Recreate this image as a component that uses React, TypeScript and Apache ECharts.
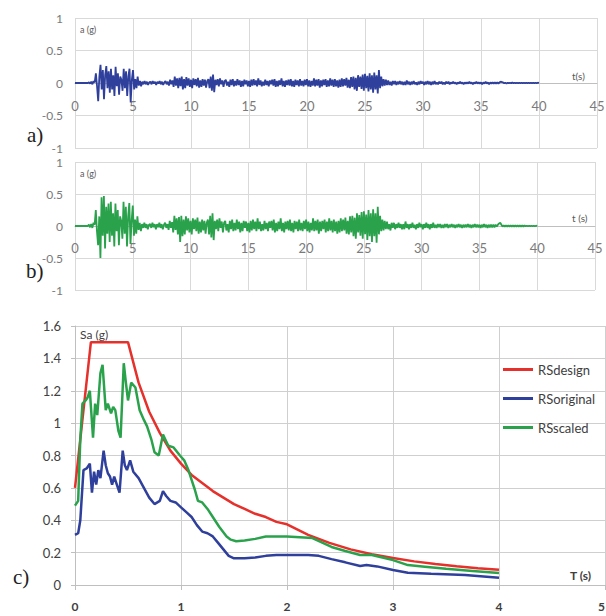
import React, { useEffect, useRef } from "react";
import * as echarts from "echarts";

// ---------- data ----------
// accelerogram sampling step (s); rows below hold 1 s each (10 samples)
const dtAcc = 0.1;
// original accelerogram a(g)
const accOriginal: number[] = [
  0, 0, 0, 0, 0, 0, 0, 0, 0, 0,
  0, 0, 0.01, -0.01, 0.02, -0.02, 0.03, 0.01, 0.15, -0.05,
  -0.28, 0.1, 0.28, -0.1, 0.2, -0.25, 0.12, 0.26, -0.08, 0.18,
  -0.15, 0.22, -0.1, 0.12, -0.2, 0.25, -0.05, 0.15, -0.18, 0.1,
  0.05, -0.12, 0.22, -0.08, 0.18, -0.2, 0.1, 0.22, -0.3, 0.05,
  0.2, -0.1, 0.06, -0.08, 0.1, -0.04, 0.03, -0.05, 0.02, -0.02,
  0.03, -0.02, 0.02, -0.03, 0.01, 0.02, -0.02, 0.03, -0.01, 0.02,
  -0.03, 0.02, -0.01, 0.03, -0.02, 0.02, -0.03, 0.01, 0.03, -0.02,
  0.02, -0.04, 0.05, -0.02, 0.04, -0.06, 0.1, -0.04, 0.07, -0.08,
  0.08, -0.05, 0.1, -0.1, 0.06, -0.08, 0.09, -0.04, 0.07, -0.06,
  0.05, -0.08, 0.07, -0.03, 0.06, -0.05, 0.08, -0.07, 0.04, -0.06,
  0.06, -0.04, 0.05, -0.07, 0.03, 0.06, -0.08, 0.1, -0.12, 0.13,
  -0.14, 0.05, -0.03, 0.06, -0.05, 0.07, -0.02, 0.04, -0.06, 0.03,
  0.05, -0.04, 0.02, -0.06, 0.05, -0.03, 0.06, -0.05, 0.03, -0.04,
  0.06, -0.03, 0.04, -0.06, 0.03, -0.05, 0.05, -0.02, 0.04, -0.05,
  0.03, -0.06, 0.05, -0.04, 0.06, -0.03, 0.04, -0.05, 0.07, -0.03,
  0.04, -0.05, 0.02, -0.04, 0.05, -0.03, 0.03, -0.05, 0.04, -0.02,
  0.05, -0.04, 0.06, -0.06, 0.03, -0.05, 0.04, -0.03, 0.07, -0.05,
  0.03, -0.06, 0.04, -0.03, 0.05, -0.04, 0.06, -0.05, 0.03, -0.06,
  0.05, -0.03, 0.04, -0.05, 0.06, -0.04, 0.03, -0.05, 0.05, -0.03,
  0.06, -0.05, 0.04, -0.06, 0.03, -0.04, 0.07, -0.05, 0.05, -0.04,
  0.06, -0.07, 0.04, -0.05, 0.05, -0.03, 0.06, -0.06, 0.04, -0.05,
  0.07, -0.04, 0.05, -0.06, 0.06, -0.05, 0.04, -0.07, 0.05, -0.06,
  0.07, -0.05, 0.06, -0.04, 0.08, -0.07, 0.05, -0.08, 0.09, -0.06,
  0.1, -0.1, 0.08, -0.12, 0.12, -0.06, 0.1, -0.09, 0.13, -0.12,
  0.14, -0.08, 0.11, -0.13, 0.15, -0.1, 0.12, -0.15, 0.16, -0.1,
  0.12, -0.16, 0.2, -0.08, 0.1, -0.05, 0.06, -0.04, 0.05, -0.03,
  0.04, -0.03, 0.02, -0.04, 0.03, -0.02, 0.03, -0.03, 0.02, -0.02,
  0.03, -0.02, 0.02, -0.03, 0.02, -0.03, 0.04, -0.02, 0.02, -0.03,
  0.02, -0.02, 0.03, -0.02, 0.01, -0.03, 0.02, -0.02, 0.03, -0.01,
  0.02, -0.03, 0.02, -0.02, 0.03, -0.02, 0.02, -0.03, 0.02, -0.02,
  0.03, -0.02, 0.01, -0.02, 0.02, -0.01, 0.02, -0.02, 0.01, -0.02,
  0.02, -0.01, 0.02, -0.02, 0.01, -0.01, 0.02, -0.01, 0.01, -0.02,
  0.01, -0.01, 0.02, -0.01, 0.01, -0.02, 0.01, -0.01, 0.01, -0.01,
  0.02, -0.01, 0.01, -0.02, 0.01, -0.01, 0.02, -0.01, 0.01, -0.01,
  0.01, -0.02, 0.01, -0.01, 0.02, -0.01, 0.01, -0.02, 0.01, -0.01,
  0.01, -0.01, 0.01, -0.01, 0.01, -0.01, 0.01, 0.02, 0.015, 0.01,
  -0.005, 0.005, -0.01, 0.005, -0.005, 0.005, -0.005, 0.01, -0.005, 0.005,
  -0.005, 0.005, -0.005, 0.005, -0.005, 0.005, -0.005, 0.005, -0.005, 0.005,
  -0.005, 0.005, -0.005, 0.005, -0.005, 0.005, -0.005, 0.005, -0.005, 0.005,
  0,
];
// scaled accelerogram a(g)
const accScaled: number[] = [
  0, 0, 0, 0, 0, 0, 0, 0, 0, 0,
  0, 0, 0.02, -0.02, 0.03, -0.03, 0.05, 0.02, 0.25, -0.08,
  -0.3, 0.15, -0.5, 0.45, -0.15, 0.47, -0.35, 0.3, -0.12, 0.35,
  -0.25, 0.38, -0.15, 0.2, -0.32, 0.35, -0.08, 0.25, -0.3, 0.15,
  0.08, -0.2, 0.38, -0.12, 0.3, -0.32, 0.15, 0.36, -0.28, 0.08,
  0.32, -0.15, 0.1, -0.12, 0.15, -0.06, 0.05, -0.08, 0.03, -0.03,
  0.05, -0.03, 0.03, -0.05, 0.02, 0.03, -0.03, 0.05, -0.02, 0.03,
  -0.05, 0.03, -0.02, 0.05, -0.03, 0.03, -0.05, 0.02, 0.05, -0.03,
  0.03, -0.06, 0.08, -0.03, 0.06, -0.1, 0.16, -0.06, 0.12, -0.13,
  0.14, -0.25, 0.16, -0.16, 0.1, -0.13, 0.15, -0.07, 0.12, -0.1,
  0.08, -0.13, 0.12, -0.05, 0.1, -0.08, 0.13, -0.12, 0.07, -0.1,
  0.1, -0.07, 0.08, -0.12, 0.05, 0.1, -0.13, 0.16, -0.18, 0.2,
  -0.22, 0.08, -0.05, 0.1, -0.08, 0.12, -0.03, 0.07, -0.1, 0.05,
  0.08, -0.07, 0.03, -0.1, 0.08, -0.05, 0.1, -0.08, 0.05, -0.07,
  0.1, -0.05, 0.07, -0.1, 0.05, -0.08, 0.08, -0.03, 0.07, -0.08,
  0.05, -0.1, 0.08, -0.07, 0.1, -0.05, 0.07, -0.08, 0.12, -0.05,
  0.07, -0.08, 0.03, -0.07, 0.08, -0.05, 0.05, -0.08, 0.07, -0.03,
  0.08, -0.07, 0.1, -0.1, 0.05, -0.08, 0.07, -0.05, 0.12, -0.08,
  0.05, -0.1, 0.07, -0.05, 0.08, -0.07, 0.1, -0.08, 0.05, -0.1,
  0.08, -0.05, 0.07, -0.08, 0.1, -0.07, 0.05, -0.08, 0.08, -0.05,
  0.1, -0.08, 0.07, -0.1, 0.05, -0.07, 0.12, -0.08, 0.08, -0.07,
  0.1, -0.12, 0.07, -0.08, 0.08, -0.05, 0.1, -0.1, 0.07, -0.08,
  0.12, -0.07, 0.08, -0.1, 0.1, -0.08, 0.07, -0.12, 0.08, -0.1,
  0.12, -0.08, 0.1, -0.07, 0.13, -0.12, 0.08, -0.13, 0.15, -0.1,
  0.16, -0.16, 0.13, -0.2, 0.2, -0.1, 0.17, -0.15, 0.22, -0.2,
  0.23, -0.13, 0.18, -0.22, 0.25, -0.16, 0.2, -0.25, 0.26, -0.16,
  0.2, -0.26, 0.3, -0.13, 0.16, -0.08, 0.1, -0.07, 0.08, -0.05,
  0.07, -0.05, 0.03, -0.07, 0.05, -0.03, 0.05, -0.05, 0.03, -0.03,
  0.05, -0.03, 0.03, -0.05, 0.03, -0.05, 0.07, -0.03, 0.03, -0.05,
  0.03, -0.03, 0.05, -0.03, 0.02, -0.05, 0.03, -0.03, 0.05, -0.02,
  0.03, -0.05, 0.03, -0.03, 0.05, -0.03, 0.03, -0.05, 0.03, -0.03,
  0.05, -0.03, 0.02, -0.03, 0.03, -0.02, 0.03, -0.03, 0.02, -0.03,
  0.03, -0.02, 0.03, -0.03, 0.02, -0.02, 0.03, -0.02, 0.02, -0.03,
  0.02, -0.02, 0.03, -0.02, 0.02, -0.03, 0.02, -0.02, 0.02, -0.02,
  0.03, -0.02, 0.02, -0.03, 0.02, -0.02, 0.03, -0.02, 0.02, -0.02,
  0.02, -0.03, 0.02, -0.02, 0.03, -0.02, 0.02, -0.03, 0.02, -0.02,
  0.02, -0.02, 0.02, -0.02, 0.02, -0.01, 0.02, 0.04, 0.05, 0.02,
  -0.01, 0.01, -0.01, 0.01, -0.01, 0.01, -0.01, 0.01, -0.01, 0.01,
  -0.01, 0.01, -0.01, 0.01, -0.01, 0.01, -0.01, 0.01, -0.01, 0.01,
  -0.005, 0.005, -0.005, 0.005, -0.005, 0.005, -0.005, 0.005, -0.005, 0.005,
  0,
];

// response spectra
const designT = [0, 0.15, 0.5, 0.6, 0.7, 0.8, 0.9, 1.0, 1.1, 1.2, 1.3, 1.4, 1.5, 1.6, 1.7, 1.8, 1.9, 2.0, 2.2, 2.4, 2.6, 2.8, 3.0, 3.2, 3.4, 3.6, 3.8, 4.0];
const designSa = [0.6, 1.5, 1.5, 1.25, 1.07, 0.94, 0.83, 0.75, 0.68, 0.63, 0.58, 0.54, 0.5, 0.47, 0.44, 0.42, 0.39, 0.375, 0.31, 0.26, 0.22, 0.19, 0.167, 0.146, 0.13, 0.116, 0.104, 0.094];

const originalT = [0, 0.03, 0.05, 0.08, 0.11, 0.14, 0.16, 0.18, 0.2, 0.22, 0.24, 0.27, 0.29, 0.31, 0.33, 0.35, 0.37, 0.39, 0.42, 0.45, 0.47, 0.49, 0.52, 0.55, 0.6, 0.65, 0.7, 0.75, 0.8, 0.83, 0.86, 0.9, 0.95, 1.0, 1.05, 1.1, 1.15, 1.2, 1.25, 1.3, 1.35, 1.4, 1.45, 1.5, 1.6, 1.7, 1.8, 1.9, 2.0, 2.2, 2.3, 2.42, 2.55, 2.69, 2.75, 2.85, 3.0, 3.14, 3.36, 3.68, 4.0];
const originalSa = [0.31, 0.32, 0.4, 0.71, 0.72, 0.75, 0.57, 0.7, 0.62, 0.71, 0.66, 0.83, 0.74, 0.69, 0.67, 0.62, 0.67, 0.63, 0.57, 0.83, 0.74, 0.71, 0.77, 0.7, 0.66, 0.6, 0.54, 0.5, 0.52, 0.58, 0.55, 0.52, 0.51, 0.48, 0.45, 0.42, 0.37, 0.33, 0.32, 0.3, 0.26, 0.22, 0.18, 0.165, 0.165, 0.17, 0.18, 0.185, 0.185, 0.185, 0.18, 0.16, 0.14, 0.117, 0.123, 0.115, 0.093, 0.076, 0.07, 0.062, 0.045];

const scaledT = [0, 0.03, 0.05, 0.07, 0.1, 0.12, 0.14, 0.17, 0.19, 0.21, 0.24, 0.26, 0.29, 0.31, 0.34, 0.36, 0.38, 0.41, 0.43, 0.46, 0.48, 0.5, 0.53, 0.57, 0.61, 0.65, 0.68, 0.72, 0.75, 0.79, 0.83, 0.88, 0.93, 0.99, 1.03, 1.07, 1.1, 1.13, 1.16, 1.2, 1.25, 1.3, 1.36, 1.43, 1.47, 1.52, 1.6, 1.7, 1.8, 2.0, 2.24, 2.42, 2.55, 2.69, 2.8, 2.9, 3.0, 3.14, 3.3, 3.5, 3.75, 4.0];
const scaledSa = [0.49, 0.52, 0.9, 1.12, 1.14, 1.16, 1.2, 0.91, 1.12, 1.05, 1.31, 1.36, 1.08, 1.12, 1.06, 1.1, 1.08, 0.95, 0.91, 1.37, 1.25, 1.14, 1.25, 1.22, 1.08, 1.02, 0.98, 0.9, 0.82, 0.8, 0.93, 0.86, 0.85, 0.8, 0.77, 0.71, 0.65, 0.59, 0.52, 0.51, 0.47, 0.42, 0.36, 0.3, 0.28, 0.27, 0.275, 0.285, 0.3, 0.3, 0.29, 0.235, 0.21, 0.185, 0.185, 0.17, 0.154, 0.123, 0.113, 0.1, 0.087, 0.074];

const seriesNames = ["RSdesign", "RSoriginal", "RSscaled"];

// ---------- styles ----------
const FONT = "Lato";
const GRID_C = "#d9d9d9";
const BLUE = "#2f3f9c";
const RED = "#e5302b";
const GREEN = "#2aa24c";

const toPairs = (xs: number[], ys: number[]) => xs.map((x, i) => [x, ys[i]]);
const accPairs = (vals: number[]) => vals.map((v, i) => [Math.round(i * dtAcc * 100) / 100, v]);

function accXAxis(gridIndex: number, margin: number, offset: number) {
  return {
    type: "value",
    gridIndex,
    min: 0,
    max: 45,
    interval: 5,
    offset,
    axisLine: { show: true, onZero: false, lineStyle: { color: "#bfbfbf", width: 1 } },
    axisTick: { show: false },
    axisLabel: { margin, fontFamily: FONT, fontSize: 13, color: "#7a7a7a" },
    splitLine: { show: true, lineStyle: { color: GRID_C, width: 1 } },
  };
}
function accYAxis(gridIndex: number) {
  return {
    type: "value",
    gridIndex,
    min: -1,
    max: 1,
    interval: 0.5,
    axisLine: { show: false },
    axisTick: { show: false },
    axisLabel: { margin: 12, fontFamily: FONT, fontSize: 12, color: "#7a7a7a" },
    splitLine: { show: true, lineStyle: { color: GRID_C, width: 1 } },
  };
}

const txt = (left: number, top: number, text: string, fontSize: number, color: string, fontFamily = FONT, fontWeight = "normal") => ({
  type: "text",
  left,
  top,
  z: 10,
  style: { text, fontSize, fill: color, fontFamily, fontWeight },
});

const option: any = {
  animation: false,
  backgroundColor: "#ffffff",
  grid: [
    { left: 75, top: 18, width: 522, height: 130, outerBoundsMode: "none", containLabel: false },
    { left: 75, top: 162, width: 520, height: 128, outerBoundsMode: "none", containLabel: false },
    { left: 75, top: 326, width: 530, height: 259, outerBoundsMode: "none", containLabel: false },
  ],
  xAxis: [
    accXAxis(0, 16, -65),
    accXAxis(1, 15, -64),
    {
      type: "value",
      gridIndex: 2,
      min: 0,
      max: 5,
      interval: 1,
      axisLine: { show: true, onZero: false, lineStyle: { color: "#bfbfbf", width: 1 } },
      axisTick: { show: true, length: 5, lineStyle: { color: "#bfbfbf" } },
      axisLabel: { margin: 15, fontFamily: FONT, fontSize: 12, color: "#404040", fontWeight: "bold", alignMaxLabel: "right" },
      splitLine: { show: true, lineStyle: { color: "#cfcfcf", width: 1 } },
    },
  ],
  yAxis: [
    accYAxis(0),
    accYAxis(1),
    {
      type: "value",
      gridIndex: 2,
      min: 0,
      max: 1.6,
      interval: 0.2,
      axisLine: { show: true, lineStyle: { color: "#bfbfbf", width: 1 } },
      axisTick: { show: true, length: 4, lineStyle: { color: "#bfbfbf" } },
      axisLabel: { margin: 14, fontFamily: FONT, fontSize: 13, color: "#404040" },
      splitLine: { show: true, lineStyle: { color: "#cfcfcf", width: 1 } },
    },
  ],
  legend: {
    orient: "vertical",
    left: 498,
    top: 357,
    itemWidth: 30,
    itemHeight: 3,
    itemGap: 14,
    icon: "rect",
    data: seriesNames,
    textStyle: { fontFamily: FONT, fontSize: 13, color: "#404040", lineHeight: 15 },
  },
  series: [
    {
      type: "line",
      xAxisIndex: 0,
      yAxisIndex: 0,
      data: accPairs(accOriginal),
      showSymbol: false,
      lineStyle: { color: BLUE, width: 1.8 },
      itemStyle: { color: BLUE },
    },
    {
      type: "line",
      xAxisIndex: 1,
      yAxisIndex: 1,
      data: accPairs(accScaled),
      showSymbol: false,
      lineStyle: { color: GREEN, width: 1.8 },
      itemStyle: { color: GREEN },
    },
    {
      name: seriesNames[0],
      type: "line",
      xAxisIndex: 2,
      yAxisIndex: 2,
      data: toPairs(designT, designSa),
      showSymbol: false,
      lineStyle: { color: RED, width: 2.5 },
      itemStyle: { color: RED },
    },
    {
      name: seriesNames[1],
      type: "line",
      xAxisIndex: 2,
      yAxisIndex: 2,
      data: toPairs(originalT, originalSa),
      showSymbol: false,
      lineStyle: { color: BLUE, width: 2.5 },
      itemStyle: { color: BLUE },
    },
    {
      name: seriesNames[2],
      type: "line",
      xAxisIndex: 2,
      yAxisIndex: 2,
      data: toPairs(scaledT, scaledSa),
      showSymbol: false,
      lineStyle: { color: GREEN, width: 2.5 },
      itemStyle: { color: GREEN },
    },
  ],
  graphic: [
    txt(80, 25, "a (g)", 9, "#595959"),
    txt(572, 71, "t(s)", 10, "#595959"),
    txt(27, 124, "a)", 21, "#222222", "Liberation Serif"),
    txt(80, 169, "a (g)", 9, "#595959"),
    txt(572, 213, "t (s)", 10, "#595959"),
    txt(26, 260, "b)", 21, "#222222", "Liberation Serif"),
    txt(80, 328, "Sa (g)", 12, "#404040"),
    txt(570, 569, "T (s)", 12, "#404040", FONT, "bold"),
    txt(13, 566, "c)", 21, "#222222", "Liberation Serif"),
  ],
};

export default function App() {
  const ref = useRef<HTMLDivElement>(null);
  useEffect(() => {
    const chart = echarts.init(ref.current!, null, { renderer: "svg" });
    chart.setOption(option);
    return () => chart.dispose();
  }, []);
  return (
    <div
      ref={ref}
      style={{ position: "absolute", left: 0, top: 0, width: 606, height: 616, background: "#fff" }}
    />
  );
}
